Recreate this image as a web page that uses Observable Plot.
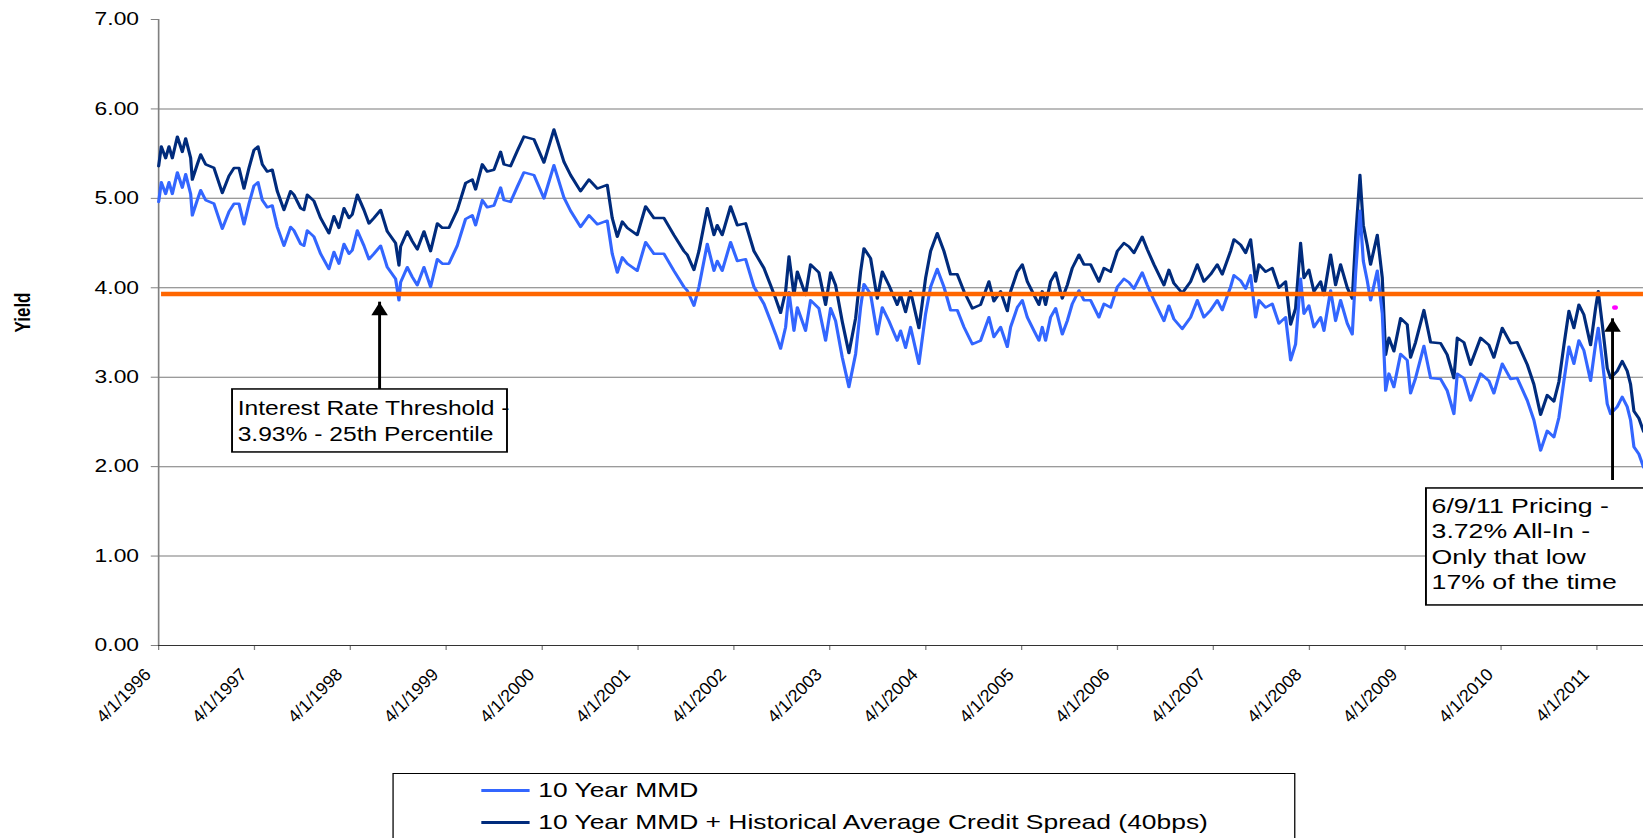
<!DOCTYPE html>
<html>
<head>
<meta charset="utf-8">
<script src="https://cdn.jsdelivr.net/npm/d3@7"></script>
<script src="https://cdn.jsdelivr.net/npm/@observablehq/plot@0.6"></script>
<style>
  html, body { margin:0; padding:0; background:#fff; overflow:hidden; }
  #wrap { position:relative; width:1293.7px; height:838px; transform:scale(1.27,1); transform-origin:0 0;
          font-family:"Liberation Sans", Arial, Helvetica, sans-serif; }
  #chart svg { display:block; }
  #legend { position:absolute; left:309.4px; top:773px; width:710.3px; height:90px; border:1.5px solid #000;
            box-sizing:border-box; background:#fff; }
  .sw { position:absolute; left:68.6px; width:37.7px; height:3px; }
  .lab { position:absolute; left:113.4px; font-size:20.8px; color:#000; white-space:nowrap; line-height:22px; }
</style>
</head>
<body>
<div id="wrap">
  <div id="chart"></div>
  <div id="legend"></div>
</div>
<script>
// ---------------- DATA ----------------
const seriesNames = ["10 Year MMD", "10 Year MMD + Historical Average Credit Spread (40bps)"];
const tickLabels = ["4/1/1996","4/1/1997","4/1/1998","4/1/1999","4/1/2000","4/1/2001","4/1/2002","4/1/2003",
                    "4/1/2004","4/1/2005","4/1/2006","4/1/2007","4/1/2008","4/1/2009","4/1/2010","4/1/2011"];
const yTicks = [0, 1, 2, 3, 4, 5, 6, 7];
const gridValues = [1, 2, 3, 4, 5, 6];
const threshold = 3.93;
const pricing = [{date: "6/9/2011", value: 3.78}];

// observation dates as decimal years (4/1/1996 = 1996.25)
const dates = [
  1996.250,1996.278,1996.323,1996.358,1996.393,1996.445,1996.497,1996.532,1996.584,1996.601,
  1996.653,1996.688,1996.740,1996.827,1996.914,1996.983,1997.036,1997.088,1997.140,1997.192,
  1997.244,1997.286,1997.331,1997.383,1997.435,1997.487,1997.557,1997.626,1997.661,1997.731,
  1997.765,1997.800,1997.870,1997.939,1998.026,1998.078,1998.130,1998.183,1998.235,1998.269,
  1998.322,1998.391,1998.443,1998.495,1998.565,1998.634,1998.721,1998.756,1998.773,1998.843,
  1998.895,1998.947,1999.017,1999.086,1999.156,1999.208,1999.277,1999.364,1999.451,1999.521,
  1999.555,1999.625,1999.677,1999.747,1999.816,
  1999.851,1999.920,1999.990,2000.059,2000.164,2000.268,2000.372,2000.476,2000.546,2000.650,
  2000.737,2000.824,2000.928,2000.980,2001.033,2001.085,2001.137,2001.241,2001.328,2001.415,
  2001.519,2001.623,2001.728,2001.762,2001.832,2001.884,2001.971,2002.041,2002.075,2002.127,
  2002.214,2002.284,2002.371,2002.458,2002.562,2002.631,2002.684,2002.736,2002.788,2002.823,
  2002.875,2002.910,2002.996,2003.048,2003.135,2003.205,2003.257,2003.309,2003.379,2003.448,
  2003.518,2003.570,2003.605,2003.674,2003.744,2003.796,2003.865,2003.952,2003.987,2004.039,
  2004.091,2004.178,2004.248,2004.300,2004.369,2004.439,2004.508,2004.578,2004.648,2004.735,
  2004.821,2004.908,2004.960,2005.030,
  2005.100,2005.134,2005.204,2005.256,2005.308,2005.378,2005.430,2005.464,2005.499,2005.551,
  2005.604,2005.673,2005.725,2005.777,2005.847,2005.899,2005.968,2006.055,2006.108,2006.177,
  2006.247,2006.316,2006.368,2006.420,2006.507,2006.559,2006.629,2006.733,2006.785,2006.837,
  2006.924,2007.011,2007.081,2007.150,2007.220,2007.289,2007.341,2007.428,2007.463,2007.533,
  2007.585,2007.637,2007.689,2007.724,2007.793,2007.863,2007.932,2008.002,2008.054,2008.106,
  2008.158,2008.193,2008.245,2008.297,2008.367,2008.402,2008.471,2008.523,2008.575,2008.645,
  2008.697,2008.732,2008.777,2008.812,2008.853,2008.888,2008.958,2009.010,2009.045,
  2009.079,2009.131,2009.201,2009.270,2009.305,2009.357,2009.444,2009.514,2009.618,2009.687,
  2009.757,2009.792,2009.861,2009.931,2010.035,2010.122,2010.174,2010.261,2010.348,2010.417,
  2010.522,2010.591,2010.661,2010.730,2010.800,2010.852,2010.904,2010.956,2011.008,2011.060,
  2011.112,2011.182,2011.234,2011.262,2011.304,2011.356,2011.391,2011.460,2011.512,2011.564,
  2011.599,2011.634,2011.686,2011.735
];

// 10 Year MMD
const mmd = [
  4.96,5.18,5.05,5.18,5.05,5.29,5.12,5.27,5.05,4.81,
  4.98,5.09,4.98,4.94,4.66,4.85,4.94,4.94,4.71,4.94,
  5.14,5.18,4.98,4.90,4.92,4.68,4.47,4.68,4.64,4.49,
  4.47,4.64,4.57,4.38,4.21,4.40,4.27,4.49,4.38,4.42,
  4.64,4.47,4.32,4.38,4.47,4.23,4.10,3.86,4.06,4.23,
  4.12,4.03,4.23,4.01,4.32,4.27,4.27,4.47,4.77,4.81,
  4.70,4.98,4.90,4.92,5.12,
  4.98,4.96,5.13,5.29,5.26,5.00,5.37,5.01,4.86,4.68,
  4.81,4.71,4.75,4.38,4.17,4.34,4.27,4.19,4.51,4.38,
  4.38,4.19,4.01,3.97,3.80,4.01,4.49,4.19,4.30,4.19,
  4.51,4.30,4.32,4.01,3.82,3.63,3.48,3.32,3.56,3.95,
  3.52,3.78,3.52,3.86,3.77,3.41,3.77,3.63,3.22,2.89,
  3.26,3.78,4.04,3.93,3.48,3.78,3.63,3.41,3.52,3.33,
  3.56,3.15,3.71,4.01,4.21,4.01,3.75,3.75,3.56,3.37,
  3.41,3.67,3.45,3.56,
  3.34,3.56,3.78,3.86,3.67,3.52,3.41,3.56,3.41,3.67,
  3.77,3.48,3.63,3.82,3.97,3.86,3.86,3.67,3.82,3.78,
  4.01,4.10,4.06,3.99,4.17,4.03,3.86,3.63,3.80,3.65,
  3.54,3.67,3.86,3.67,3.75,3.86,3.75,4.01,4.14,4.08,
  3.99,4.14,3.67,3.86,3.78,3.82,3.60,3.67,3.19,3.37,
  4.10,3.71,3.80,3.56,3.67,3.52,3.97,3.63,3.86,3.60,
  3.48,4.16,4.86,4.30,4.08,3.86,4.19,3.71,2.85,
  3.04,2.89,3.26,3.19,2.82,2.99,3.35,2.99,2.98,2.85,
  2.59,3.04,2.99,2.74,3.04,2.96,2.82,3.15,2.98,2.99,
  2.74,2.52,2.18,2.40,2.33,2.55,2.96,3.34,3.15,3.41,
  3.30,2.96,3.37,3.55,3.19,2.70,2.59,2.67,2.78,2.67,
  2.52,2.22,2.14,1.99
];

// 10 Year MMD + Historical Average Credit Spread (40bps)
const allIn = [
  5.36,5.58,5.45,5.58,5.45,5.69,5.52,5.67,5.45,5.21,
  5.38,5.49,5.38,5.34,5.06,5.25,5.34,5.34,5.11,5.34,
  5.54,5.58,5.38,5.30,5.32,5.08,4.87,5.08,5.04,4.89,
  4.87,5.04,4.97,4.78,4.61,4.80,4.67,4.89,4.78,4.82,
  5.04,4.87,4.72,4.78,4.87,4.63,4.50,4.25,4.46,4.63,
  4.52,4.43,4.63,4.41,4.72,4.67,4.67,4.87,5.17,5.21,
  5.10,5.38,5.30,5.32,5.52,
  5.38,5.36,5.53,5.69,5.66,5.40,5.77,5.41,5.26,5.08,
  5.21,5.11,5.15,4.78,4.57,4.74,4.67,4.59,4.91,4.78,
  4.78,4.59,4.41,4.37,4.20,4.41,4.89,4.59,4.70,4.59,
  4.91,4.70,4.72,4.41,4.22,4.03,3.88,3.72,3.96,4.35,
  3.92,4.18,3.92,4.26,4.17,3.81,4.17,4.03,3.62,3.27,
  3.66,4.18,4.44,4.33,3.88,4.18,4.03,3.81,3.92,3.73,
  3.96,3.55,4.11,4.41,4.61,4.41,4.15,4.15,3.96,3.77,
  3.81,4.07,3.85,3.96,
  3.74,3.96,4.18,4.26,4.07,3.92,3.81,3.96,3.81,4.07,
  4.17,3.88,4.03,4.22,4.37,4.26,4.26,4.07,4.22,4.18,
  4.41,4.50,4.46,4.39,4.57,4.43,4.26,4.03,4.20,4.05,
  3.94,4.07,4.26,4.07,4.15,4.26,4.15,4.41,4.54,4.48,
  4.39,4.54,4.07,4.26,4.18,4.22,4.00,4.07,3.59,3.77,
  4.50,4.11,4.20,3.96,4.07,3.92,4.37,4.03,4.26,4.00,
  3.88,4.56,5.26,4.70,4.48,4.26,4.59,4.11,3.25,
  3.44,3.29,3.66,3.59,3.22,3.39,3.75,3.39,3.38,3.25,
  2.99,3.44,3.39,3.14,3.44,3.36,3.22,3.55,3.38,3.39,
  3.14,2.92,2.58,2.80,2.73,2.95,3.36,3.74,3.55,3.81,
  3.70,3.36,3.77,3.96,3.59,3.10,2.99,3.07,3.18,3.07,
  2.92,2.62,2.54,2.39
];

// annotation texts
const noteTexts = [
  "Interest Rate Threshold -\n3.93% - 25th Percentile",
  "6/9/11 Pricing -\n3.72% All-In -\nOnly that low\n17% of the time"
];

// ---------------- LAYOUT ----------------
const S = 1.27;               // horizontal stretch of the original picture
const W = 1643 / S, H = 760;
const lightBlue = "#3366ff", navy = "#002b7c";

const t0 = Date.UTC(1996, 3, 1);
const fromYear = t => new Date(t0 + (t - 1996.25) * 365.25 * 864e5);
const parseMDY = s => { const [m, d, y] = s.split("/").map(Number); return new Date(Date.UTC(y, m - 1, d)); };
const fmtMDY = d => `${d.getUTCMonth() + 1}/${d.getUTCDate()}/${d.getUTCFullYear()}`;

if (dates.length !== mmd.length || dates.length !== allIn.length)
  console.error("length mismatch", dates.length, mmd.length, allIn.length);

const rows = dates.map((t, i) => ({date: fromYear(t), mmd: mmd[i], allIn: allIn[i]}));

const arrows = [
  {date: fromYear(1998.554), base: 2.863, tip: 3.839},
  {date: fromYear(2011.411), base: 1.845, tip: 3.653}
];
const notes = [
  {date: fromYear(1997.022), value: 2.863, text: noteTexts[0], w: 216.5, h: 63, size: 19.4, lh: 1.3},
  {date: fromYear(2009.472), value: 1.756, text: noteTexts[1], w: 200, h: 117, size: 21, lh: 1.22}
];
const arrowHead = {
  draw(ctx, size) {
    const r = Math.sqrt(size / Math.PI), h = 2.6 * r, w = 1.3 * r;
    ctx.moveTo(0, 0); ctx.lineTo(-w, h); ctx.lineTo(w, h); ctx.closePath();
  }
};

const ml = 158 / S;
const xTickDates = tickLabels.map(parseMDY);
const chart = Plot.plot({
  width: W, height: H,
  marginTop: 19, marginBottom: H - 645, marginLeft: ml, marginRight: 0,
  x: {type: "utc", domain: [fromYear(1996.25), fromYear(2011.735)]},
  y: {domain: [0, 7]},
  style: {fontFamily: "'Liberation Sans', Arial, Helvetica, sans-serif", background: "transparent", color: "#000"},
  marks: [
    Plot.ruleY(gridValues, {stroke: "#7a7a7a", strokeWidth: 1}),
    Plot.axisY({ticks: yTicks, tickFormat: d3.format(".2f"), tickSize: 5.7, tickPadding: 9.7,
                fontSize: 18, stroke: "#808080", fill: "#000", label: null}),
    Plot.axisX({ticks: xTickDates, tickSize: 5, stroke: "#808080", fill: "none", label: null}),
    Plot.axisX({ticks: xTickDates, tickFormat: fmtMDY, tickSize: 0, tickPadding: 26,
                tickRotate: -45, dx: -8.5, fontSize: 17.6, fill: "#000", label: null,
                ariaLabel: "x-axis tick label"}),
    Plot.ruleX([fromYear(1996.25)], {y1: 0, y2: 7, stroke: "#808080", strokeWidth: 1.3}),
    Plot.ruleY([0], {stroke: "#333", strokeWidth: 1.2}),
    Plot.line(rows, {x: "date", y: "allIn", stroke: navy, strokeWidth: 2.5}),
    Plot.line(rows, {x: "date", y: "mmd", stroke: lightBlue, strokeWidth: 2.5}),
    Plot.ruleY([threshold], {stroke: "#ff6600", strokeWidth: 4.5, insetLeft: 2.4}),
    Plot.dot(pricing, {x: d => parseMDY(d.date), y: "value", r: 2.3, fill: "#ff00ff"}),
    Plot.ruleX(arrows, {x: "date", y1: "base", y2: "tip", stroke: "#000", strokeWidth: 2.3}),
    Plot.dot(arrows, {x: "date", y: "tip", symbol: arrowHead, r: 5, fill: "#000", stroke: "none"}),
    Plot.text(notes.slice(0, 1), {x: "date", y: "value", text: "text", textAnchor: "start", lineAnchor: "top",
                      dx: 3.9, dy: 8, fontSize: notes[0].size, lineHeight: notes[0].lh, fill: "#000"}),
    Plot.text(notes.slice(1), {x: "date", y: "value", text: "text", textAnchor: "start", lineAnchor: "top",
                      dx: 3.9, dy: 6, fontSize: notes[1].size, lineHeight: notes[1].lh, fill: "#000"}),
    Plot.text(["Yield"], {frameAnchor: "left", dx: 17.3 - ml, rotate: -90, fontSize: 17,
                          fontWeight: "bold", fill: "#000"})
  ]
});
document.getElementById("chart").appendChild(chart);

// the rotated date labels are drawn un-sheared (counter the horizontal stretch)
try {
  const labelSet = new Set(tickLabels);
  chart.querySelectorAll("text").forEach(t => {
    if (!labelSet.has(t.textContent)) return;
    const tr = t.getAttribute("transform") || "";
    if (tr.includes("rotate(")) {
      t.setAttribute("transform", tr.replace("rotate(", `scale(${1 / S},1) rotate(`));
    }
  });
} catch (e) { console.error(e); }

// boxes behind the annotation texts
try {
  const xs = chart.scale("x"), ys = chart.scale("y");
  const texts = Array.from(chart.querySelectorAll("text"));
  const keys = ["Interest Rate", "6/9/11"];
  notes.forEach((n, i) => {
    const t = texts.find(el => el.textContent.startsWith(keys[i]));
    const g = t ? t.parentNode : null;
    if (!g || !g.parentNode) return;
    const r = document.createElementNS("http://www.w3.org/2000/svg", "rect");
    r.setAttribute("x", xs.apply(n.date));
    r.setAttribute("y", ys.apply(n.value));
    r.setAttribute("width", n.w);
    r.setAttribute("height", n.h);
    r.setAttribute("fill", "#fff");
    r.setAttribute("stroke", "#000");
    r.setAttribute("stroke-width", 1.5);
    g.parentNode.insertBefore(r, g);
  });
} catch (e) { console.error(e); }

// legend
const legend = document.getElementById("legend");
[lightBlue, navy].forEach((c, i) => {
  const cy = 16.5 + i * 32;
  const sw = document.createElement("div");
  sw.className = "sw"; sw.style.top = (cy - 1.5) + "px"; sw.style.background = c;
  const lab = document.createElement("div");
  lab.className = "lab"; lab.style.top = (cy - 11.5) + "px"; lab.textContent = seriesNames[i];
  legend.appendChild(sw); legend.appendChild(lab);
});
</script>
</body>
</html>
